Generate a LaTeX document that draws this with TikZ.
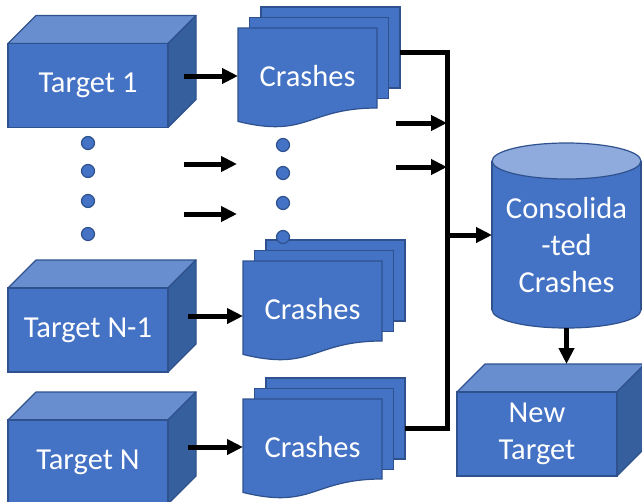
\documentclass[tikz,border=0pt]{standalone}
\usepackage{fontspec}
\setmainfont{Carlito}
\usetikzlibrary{arrows.meta, backgrounds, calc}

\definecolor{boxblue}{HTML}{4472C4}
\definecolor{boxtop}{HTML}{698ED0}
\definecolor{boxside}{HTML}{365F9E}
\definecolor{boxedge}{HTML}{2F528F}
\definecolor{drumtop}{HTML}{8FAADC}

\begin{document}
\begin{tikzpicture}[x=1pt, y=-1pt,
    every node/.style={text=white, font=\fontsize{30.5}{37}\selectfont,
      inner sep=0pt, outer sep=0pt},
    cube/.style={rectangle, draw=boxedge, fill=boxblue, line width=1.2pt,
      minimum width=160pt, minimum height=84pt, align=center},
    face/.style={draw=boxedge, line width=1.2pt, line join=round},
    crash/.style={rectangle, minimum width=139pt, minimum height=96pt},
    page/.style={draw=boxedge, fill=boxblue, line width=1.2pt},
    dot/.style={draw=boxedge, fill=boxblue, line width=1.2pt},
    flow/.style={line width=5pt, -{Triangle[length=16pt, width=15pt]}},
    trunk/.style={line width=5pt}]
    \def\d{28} \def\rx{74.5} \def\ry{18}

    \useasboundingbox (0, 0) rectangle (642, 501);

    % targets
    \node [cube] (t1) at (88, 85.5) {Target 1};
    \node [cube] (tn1) at (88, 330) {Target N-1};
    \node [cube] (tn) at (88, 462) {Target N};
    \node [cube] (new) at (537, 434) {New\\Target};

    \begin{scope}[on background layer]
      \foreach \n in {t1, tn1, tn, new} {
        \filldraw [face, fill=boxtop] (\n.north west) -- ++(\d, -\d)
        -- ([shift={(\d, -\d)}]\n.north east) -- (\n.north east) -- cycle;
        \filldraw [face, fill=boxside] (\n.north east) -- ++(\d, -\d)
        -- ([shift={(\d, -\d)}]\n.south east) -- (\n.south east) -- cycle;
      }
    \end{scope}

    % crash stacks
    \node [crash] (c1) at (307.5, 76) {Crashes};
    \node [crash] (cn1) at (312.5, 309) {Crashes};
    \node [crash] (cn) at (312.5, 447) {Crashes};

    \begin{scope}[on background layer]
      \foreach \n in {c1, cn1, cn} {
        \begin{scope}[shift={(\n.north west)}]
          \filldraw [page] (23, -21) rectangle ++(139, 81);
          \filldraw [page] (11.5, -10.5) rectangle ++(139, 81);
          \filldraw [page] (0, 0) -- (139, 0) -- (139, 80) .. controls
          (69.5, 80) and (69.5, 110.7) .. (0, 93.4) -- cycle;
        \end{scope}
      }
    \end{scope}

    % consolidated store
    \node [rectangle, minimum width=149pt, minimum height=149pt] (cons)
    at (566.5, 235.5) {};
    \node [align=center] (consl) at (566.5, 245) {Consolida\\-ted\\Crashes};

    \begin{scope}[on background layer]
      \filldraw [page] (cons.south) ellipse [x radius=\rx, y radius=\ry];
      \fill [boxblue] (cons.north west) rectangle (cons.south east);
      \draw [face] (cons.north west) -- (cons.south west)
      (cons.north east) -- (cons.south east);
      \filldraw [page, fill=drumtop] (cons.north) ellipse [x radius=\rx,
      y radius=\ry];
    \end{scope}

    % dots
    \foreach \y in {143, 171, 201, 234} \filldraw [dot] (88, \y) circle (6.5);
    \foreach \y in {145, 173, 203, 237} \filldraw [dot] (283, \y) circle (6.5);

    % arrows
    \draw [flow] ($(t1.east |- c1.west) + (16, 0)$) -- (c1.west);
    \draw [flow] ($(tn1.east) + (20, -14)$) -- ($(cn1.west) + (0, 7)$);
    \draw [flow] ($(tn.east |- cn.west) + (20, 0)$) -- (cn.west);

    \coordinate (ma) at (184, 164);
    \coordinate (mb) at (184, 214);
    \draw [flow] (ma) -- ++(53, 0);
    \draw [flow] (mb) -- ++(53, 0);

    \coordinate (bus) at (447, 235);
    \draw [trunk] ($(c1.north east) + (23, 24)$) -| (bus)
    |- ($(cn.north east) + (23, 29)$);

    \coordinate (ia) at (396, 123);
    \coordinate (ib) at (396, 167);
    \draw [flow] (ia) -- (ia -| bus);
    \draw [flow] (ib) -- (ib -| bus);
    \draw [flow] (bus) -- (bus -| cons.west);

    \coordinate (newtop) at ([shift={(\d, -\d)}]new.north);
    \draw [flow] ([yshift=-18pt]cons.south) -- (cons.south |- newtop);

  \end{tikzpicture}
\end{document}
